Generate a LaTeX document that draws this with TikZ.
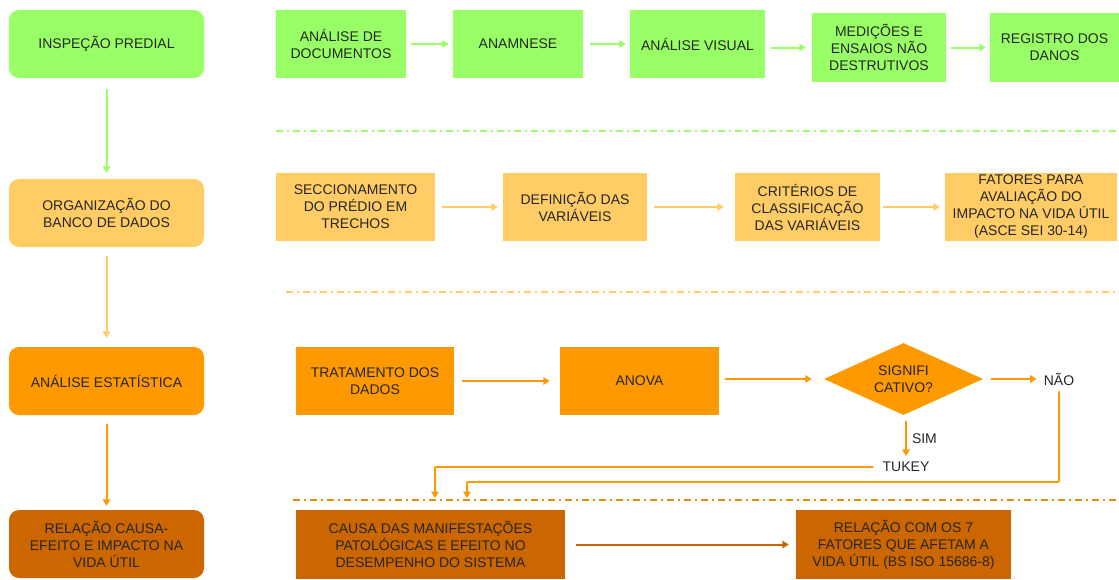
\documentclass[tikz,border=0pt]{standalone}
\usepackage{fontspec}
\setmainfont{Liberation Sans}
\usetikzlibrary{shapes.geometric,arrows.meta}
\definecolor{cg}{HTML}{99FF66}
\definecolor{cy}{HTML}{FFCC66}
\definecolor{co}{HTML}{FF9900}
\definecolor{cd}{HTML}{CC6600}
\definecolor{txt}{HTML}{262626}
\begin{document}
\begin{tikzpicture}[x=1pt,y=-1pt,
  every node/.style={font=\fontsize{14}{17}\selectfont, text=txt, align=center, inner sep=0pt},
  box/.style={minimum height=68pt},
  lbox/.style={box, rounded corners=10pt, minimum width=195pt},
  arr/.style={line width=2pt, -{Triangle[length=6.5pt,width=7.5pt]}},
  sepline/.style={line width=1.6pt, dash pattern=on 7pt off 4pt on 2pt off 4pt}]
\useasboundingbox (0,0) rectangle (1119,579);

% left column
\node[lbox, fill=cg] (ip) at (106.5,44) {INSPEÇÃO PREDIAL};
\node[lbox, fill=cy] (org) at (106.5,213) {ORGANIZAÇÃO  DO\\BANCO DE DADOS};
\node[lbox, fill=co] (ae) at (106.5,381) {ANÁLISE ESTATÍSTICA};
\node[lbox, fill=cd] (rc) at (106.5,544) {RELAÇÃO CAUSA-\\EFEITO E IMPACTO NA\\VIDA ÚTIL};

\draw[arr, cg, shorten <=11pt, shorten >=6pt] (ip) -- (org);
\draw[arr, cy, shorten <=9pt, shorten >=9pt] (org) -- (ae);
\draw[arr, co, shorten <=9pt, shorten >=4pt] (ae) -- (rc);

% row 1
\node[box, fill=cg, minimum width=130pt] (ad) at (341,44) {ANÁLISE DE\\DOCUMENTOS};
\node[box, fill=cg, minimum width=130pt] (an) at (518,44) {ANAMNESE};
\node[box, fill=cg, minimum width=135pt] (av) at (697.5,44) {ANÁLISE VISUAL};
\node[box, fill=cg, minimum width=134pt, minimum height=69pt] (me) at (879,47.5) {MEDIÇÕES E\\ENSAIOS NÃO\\DESTRUTIVOS};
\node[box, fill=cg, minimum width=129pt, minimum height=69pt] (rd) at (1054.5,47.5) {REGISTRO  DOS\\DANOS};
\draw[arr, cg, shorten <=5pt, shorten >=4pt] (ad) -- (an);
\draw[arr, cg, shorten <=7pt, shorten >=4pt] (an) -- (av);
\draw[arr, cg, shorten <=6pt, shorten >=6pt] (av.east |- me.west) -- (me.west);
\draw[arr, cg, shorten <=5pt, shorten >=4pt] (me) -- (rd);

\coordinate (g1) at (276,131);
\coordinate (g2) at (1119,131);
\draw[sepline, cg] (g1) -- (g2);

% row 2
\node[box, fill=cy, minimum width=159pt] (sec) at (355.5,207) {SECCIONAMENTO\\DO PRÉDIO EM\\TRECHOS};
\node[box, fill=cy, minimum width=144pt] (def) at (575,207) {DEFINIÇÃO DAS\\VARIÁVEIS};
\node[box, fill=cy, minimum width=145pt] (cri) at (807.5,207) {CRITÉRIOS  DE\\CLASSIFICAÇÃO\\DAS VARIÁVEIS};
\node[box, fill=cy, minimum width=172pt] (fat) at (1031,207) {FATORES PARA\\AVALIAÇÃO DO\\IMPACTO NA VIDA ÚTIL\\(ASCE SEI 30-14)};
\draw[arr, cy, shorten <=7pt, shorten >=5pt] (sec) -- (def);
\draw[arr, cy, shorten <=7pt, shorten >=11pt] (def) -- (cri);
\draw[arr, cy, shorten <=3pt, shorten >=5pt] (cri) -- (fat);

\coordinate (y1) at (286,292);
\coordinate (y2) at (1119,292);
\draw[sepline, cy] (y1) -- (y2);

% row 3
\node[box, fill=co, minimum width=158pt] (tr) at (375,381) {TRATAMENTO DOS\\DADOS};
\node[box, fill=co, minimum width=159pt] (anova) at (639.5,381) {ANOVA};
\node[diamond, aspect=2.2, fill=co, minimum width=159pt, minimum height=72pt] (sig) at (903.5,379) {SIGNIFI\\CATIVO?};
\node (nao) at (1059,379) {NÃO};
\node (tuk) at (906,467) {TUKEY};
\draw[arr, co, shorten <=8pt, shorten >=10pt] (tr) -- (anova);
\draw[arr, co, shorten <=6pt, shorten >=12pt] (anova.east |- sig.west) -- (sig.west);
\draw[arr, co, shorten <=8pt, shorten >=7pt] (sig) -- (nao);
\draw[arr, co, shorten <=6pt, shorten >=6pt] (sig.south -| tuk.north) -- node[right=5pt, pos=0.5] (sim) {SIM} (tuk.north);

\coordinate (t1) at (435,498);
\coordinate (t2) at (467,498);
\draw[arr, co, line width=1.8pt, rounded corners=1pt, shorten <=9pt] (tuk.west) -| (t1);
\draw[arr, co, line width=1.8pt, rounded corners=1pt, shorten <=6pt] (nao.south) |- (1000,482) -| (t2);

\coordinate (o1) at (293,500);
\coordinate (o2) at (1119,500);
\draw[sepline, co!85!black!90] (o1) -- (o2);

% row 4
\node[box, fill=cd, minimum width=269pt, minimum height=69pt] (cau) at (430.5,544.5) {CAUSA DAS MANIFESTAÇÕES\\PATOLÓGICAS E EFEITO NO\\DESEMPENHO DO SISTEMA};
\node[box, fill=cd, minimum width=215pt, minimum height=69pt] (rel) at (903.5,544.5) {RELAÇÃO COM OS 7\\FATORES QUE AFETAM A\\VIDA ÚTIL  (BS ISO  15686-8)};
\draw[arr, cd, shorten <=11pt, shorten >=7pt] (cau) -- (rel);
\end{tikzpicture}
\end{document}
